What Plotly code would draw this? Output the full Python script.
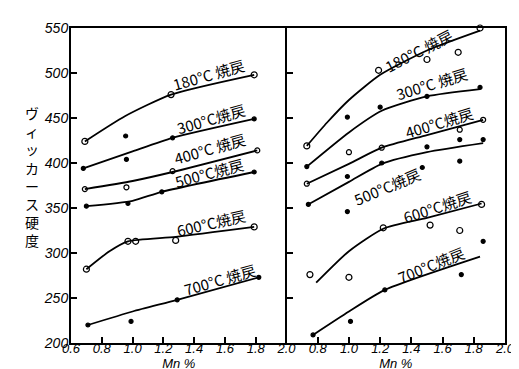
import plotly.graph_objects as go

# ---------------- data ----------------
temps = ["180°C", "300°C", "400°C", "500°C", "600°C", "700°C"]
left_suffix = [" 焼戻", "焼戻", " 焼戻", "焼戻", "焼戻", " 焼戻"]
right_suffix = [" 焼戻", " 焼戻", "焼戻", "焼戻", "焼戻", "焼戻"]

# left panel: smooth curves
L180_cx = [0.69, 0.95, 1.25, 1.79]; L180_cy = [424, 452, 476, 498]
L300_cx = [0.68, 1.00, 1.26, 1.79]; L300_cy = [394, 413, 428, 449]
L400_cx = [0.69, 1.00, 1.26, 1.81]; L400_cy = [371, 380, 390, 414]
L500_cx = [0.70, 1.00, 1.19, 1.79]; L500_cy = [352, 358, 368, 390]
L600_cx = [0.70, 0.85, 0.97, 1.28, 1.79]; L600_cy = [282, 302, 313, 318, 329]
L700_cx = [0.71, 1.00, 1.29, 1.82]; L700_cy = [220, 235, 248, 273]
# left panel: measured points
L180_px = [0.69, 1.25, 1.79]; L180_py = [424, 476, 498]
L300_px = [0.68, 0.955, 0.96, 1.26, 1.79]; L300_py = [394, 430, 404, 428, 449]
L400_px = [0.69, 0.96, 1.26, 1.81]; L400_py = [371, 373, 391, 414]
L500_px = [0.70, 0.97, 1.19, 1.79]; L500_py = [352, 355, 368, 390]
L600_px = [0.70, 0.97, 1.02, 1.28, 1.79]; L600_py = [282, 313, 313, 314, 329]
L700_px = [0.71, 0.99, 1.29, 1.82]; L700_py = [220, 224, 248, 273]

# right panel: smooth curves
R180_cx = [0.73, 0.86, 1.00, 1.20, 1.50, 1.84]; R180_cy = [419, 445, 470, 498, 525, 547]
R300_cx = [0.73, 1.00, 1.21, 1.50, 1.84]; R300_cy = [396, 434, 458, 474, 482]
R400_cx = [0.73, 1.00, 1.21, 1.50, 1.86]; R400_cy = [377, 399, 417, 431, 448]
R500_cx = [0.75, 1.00, 1.21, 1.50, 1.86]; R500_cy = [355, 379, 399, 412, 422]
R600_cx = [0.79, 1.00, 1.22, 1.50, 1.85]; R600_cy = [267, 302, 327, 339, 355]
R700_cx = [0.77, 1.00, 1.23, 1.84]; R700_cy = [209, 235, 259, 296]
# right panel: measured points
R180_px = [0.73, 1.19, 1.50, 1.70, 1.84]; R180_py = [419, 503, 515, 523, 550]
R300_px = [0.73, 0.99, 1.20, 1.50, 1.84]; R300_py = [396, 451, 462, 474, 484]
R400_px = [0.73, 1.00, 1.21, 1.71, 1.86]; R400_py = [377, 412, 417, 437, 448]
R500_px = [0.74, 0.99, 0.99, 1.21, 1.47, 1.50, 1.71, 1.71, 1.86]
R500_py = [354, 385, 346, 400, 395, 418, 402, 426, 426]
R600_px = [0.75, 1.00, 1.22, 1.52, 1.71, 1.85]; R600_py = [276, 273, 328, 331, 325, 354]
R700_px = [0.77, 1.01, 1.23, 1.72, 1.86]; R700_py = [209, 224, 259, 276, 313]

x_ticks_left = [0.6, 0.8, 1.0, 1.2, 1.4, 1.6, 1.8, 2.0]
x_ticks_right = [0.8, 1.0, 1.2, 1.4, 1.6, 1.8, 2.0]
y_ticks = [200, 250, 300, 350, 400, 450, 500, 550]
x_title = "Mn %"
y_title = "ヴィッカース硬度"

# ---------------- figure ----------------
NUM_FONT = "Liberation Sans, Arial, Noto Sans CJK JP"
CJK_FONT = "Noto Sans CJK JP, Liberation Sans"

fig = go.Figure()

left = [(L180_cx, L180_cy, L180_px, L180_py, "circle-open", 6),
        (L300_cx, L300_cy, L300_px, L300_py, "circle", 4),
        (L400_cx, L400_cy, L400_px, L400_py, "circle-open", 5),
        (L500_cx, L500_cy, L500_px, L500_py, "circle", 4),
        (L600_cx, L600_cy, L600_px, L600_py, "circle-open", 6),
        (L700_cx, L700_cy, L700_px, L700_py, "circle", 4)]
right = [(R180_cx, R180_cy, R180_px, R180_py, "circle-open", 6),
         (R300_cx, R300_cy, R300_px, R300_py, "circle", 4),
         (R400_cx, R400_cy, R400_px, R400_py, "circle-open", 5),
         (R500_cx, R500_cy, R500_px, R500_py, "circle", 4),
         (R600_cx, R600_cy, R600_px, R600_py, "circle-open", 6),
         (R700_cx, R700_cy, R700_px, R700_py, "circle", 4)]

for group, xa, ya in [(left, "x", "y"), (right, "x2", "y2")]:
    for cx, cy, px, py, sym, sz in group:
        fig.add_trace(go.Scatter(x=cx, y=cy, mode="lines", xaxis=xa, yaxis=ya,
                                 line=dict(color="black", width=1.8, shape="spline", smoothing=0.6),
                                 showlegend=False, hoverinfo="skip"))
        fig.add_trace(go.Scatter(x=px, y=py, mode="markers", xaxis=xa, yaxis=ya,
                                 marker=dict(symbol=sym, size=sz, color="black",
                                             line=dict(color="black", width=1.2)),
                                 showlegend=False, cliponaxis=False))

split = (281 - 63) / 439.0
yfont = dict(family=NUM_FONT, size=14, color="black", style="italic")
xfont = dict(family=NUM_FONT, size=13, color="black", style="italic")
title_font = dict(family=NUM_FONT, size=13, color="black", style="italic")
axis_common = dict(showline=True, linecolor="black", linewidth=2,
                   ticks="inside", ticklen=6, tickwidth=1.5, tickcolor="black",
                   showgrid=False, zeroline=False)

fig.update_layout(
    width=519, height=369,
    margin=dict(l=63, r=17, t=17, b=33),
    paper_bgcolor="white", plot_bgcolor="white",
    xaxis=dict(domain=[0, split], range=[0.6, 2.0], tickvals=x_ticks_left,
               ticktext=[f"{v:.1f}" for v in x_ticks_left], anchor="y", mirror=True,
               ticklabelstandoff=-8, tickfont=xfont,
               title=dict(text=x_title, font=title_font, standoff=0), **axis_common),
    xaxis2=dict(domain=[split, 1], range=[0.6, 2.0], tickvals=x_ticks_right,
                ticktext=[f"{v:.1f}" for v in x_ticks_right], anchor="y2", mirror=True,
                ticklabelstandoff=-8, tickfont=xfont,
                title=dict(text=x_title, font=title_font, standoff=0), **axis_common),
    yaxis=dict(domain=[0, 1], range=[200, 550], tickvals=y_ticks, anchor="x",
               mirror=False, ticklabelstandoff=-2, tickfont=yfont, **axis_common),
    yaxis2=dict(domain=[0, 1], range=[200, 550], tickvals=y_ticks, anchor="x2",
                showticklabels=False, mirror=True, **axis_common),
)

# curve labels (anchor in data units, rotation)
left_lbl = [(1.493, 498, -16), (1.512, 449, -16), (1.499, 416, -16),
            (1.499, 390, -15), (1.512, 334, -13), (1.563, 271, -16)]
right_lbl = [(1.446, 525, -27), (1.529, 488, -17), (1.574, 445, -17),
             (1.243, 374, -23), (1.567, 352, -18), (1.529, 287, -22)]
for lbls, sfx, xr, yr in [(left_lbl, left_suffix, "x", "y"), (right_lbl, right_suffix, "x2", "y2")]:
    for (lx, ly, ang), t, s in zip(lbls, temps, sfx):
        fig.add_annotation(x=lx, y=ly, xref=xr, yref=yr, text=f"{t}{s}", showarrow=False,
                           textangle=ang, xanchor="center", yanchor="middle",
                           font=dict(family=CJK_FONT, size=15, color="black"))

fig.add_annotation(x=-0.091, y=0.53, xref="paper", yref="paper",
                   text="<br>".join(list(y_title)), showarrow=False,
                   xanchor="center", yanchor="middle", align="center",
                   font=dict(family=CJK_FONT, size=14, color="black"))

fig.write_html("out.html")
